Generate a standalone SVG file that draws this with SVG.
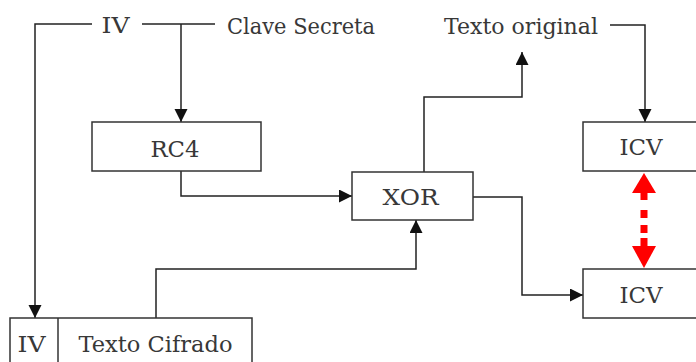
<svg xmlns="http://www.w3.org/2000/svg" width="696" height="362" viewBox="0 0 696 362">
<style>
.box{fill:#fff;stroke:#333;stroke-width:1.5}
.lbl{font-family:"DejaVu Serif","Liberation Serif",serif;font-size:23px;fill:#383838;text-anchor:middle}
.con{fill:none;stroke:#222;stroke-width:1.5}
.red{fill:#ff0000}
</style>
<defs>
<marker id="arr" markerUnits="userSpaceOnUse" markerWidth="15" markerHeight="15" refX="13" refY="6.5" orient="auto">
<path d="M0,0 L13,6.5 L0,13 z" fill="#111"/>
</marker>
</defs>
<rect width="696" height="362" fill="#fff"/>
<g id="connectors">
<path class="con" d="M92,24 H35 V318" marker-end="url(#arr)"/>
<path class="con" d="M142,24 H215"/>
<path class="con" d="M181,24 V122" marker-end="url(#arr)"/>
<path class="con" d="M181,171 V196 H352" marker-end="url(#arr)"/>
<path class="con" d="M156,318 V269 H416 V220" marker-end="url(#arr)"/>
<path class="con" d="M424,172 V97 H522 V52" marker-end="url(#arr)"/>
<path class="con" d="M610,25 H645 V122" marker-end="url(#arr)"/>
<path class="con" d="M473,197 H522 V295 H583" marker-end="url(#arr)"/>
<g id="icv-compare" class="red">
<polygon points="644,173 656,193 632,193"/>
<rect x="640.5" y="193" width="7" height="7"/>
<rect x="640.5" y="210" width="7" height="8"/>
<rect x="640.5" y="225" width="7" height="8"/>
<rect x="640.5" y="238" width="7" height="8"/>
<polygon points="632,246 656,246 644,268"/>
</g>
</g>
<g id="iv-label"><text class="lbl" x="115.5" y="33" textLength="28" lengthAdjust="spacingAndGlyphs">IV</text></g>
<g id="clave-secreta"><text class="lbl" x="301" y="34" textLength="148" lengthAdjust="spacingAndGlyphs">Clave Secreta</text></g>
<g id="texto-original"><text class="lbl" x="521" y="34" textLength="154" lengthAdjust="spacingAndGlyphs">Texto original</text></g>
<g id="rc4"><rect class="box" x="92" y="122" width="169" height="49"/><text class="lbl" x="175" y="157" textLength="49" lengthAdjust="spacingAndGlyphs">RC4</text></g>
<g id="xor"><rect class="box" x="352" y="172" width="121" height="48"/><text class="lbl" x="410.5" y="205" textLength="56" lengthAdjust="spacingAndGlyphs">XOR</text></g>
<g id="icv-top"><rect class="box" x="583" y="122" width="120" height="49"/><text class="lbl" x="641" y="155" textLength="43" lengthAdjust="spacingAndGlyphs">ICV</text></g>
<g id="icv-bottom"><rect class="box" x="583" y="269" width="120" height="49"/><text class="lbl" x="641" y="303" textLength="43" lengthAdjust="spacingAndGlyphs">ICV</text></g>
<g id="texto-cifrado">
<rect class="box" x="10" y="318" width="242" height="60"/>
<line x1="58" y1="318" x2="58" y2="362" stroke="#333" stroke-width="1.5"/>
<text class="lbl" x="31.5" y="352" textLength="28" lengthAdjust="spacingAndGlyphs">IV</text>
<text class="lbl" x="155.5" y="352" textLength="154" lengthAdjust="spacingAndGlyphs">Texto Cifrado</text>
</g>
</svg>
